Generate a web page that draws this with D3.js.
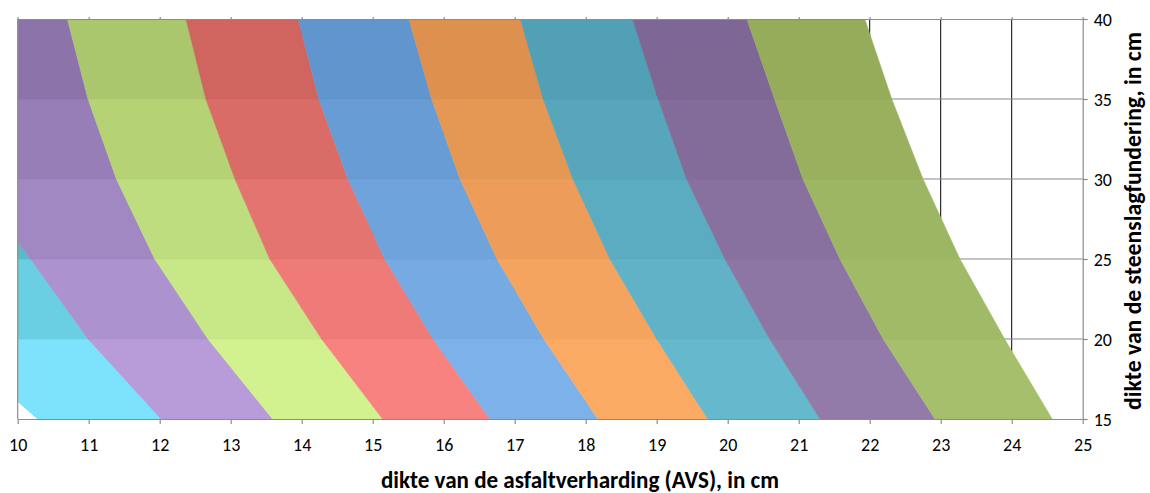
<!DOCTYPE html>
<html>
<head>
<meta charset="utf-8">
<script src="https://cdn.jsdelivr.net/npm/d3@7"></script>
<style>
  body { margin: 0; background: #fff; }
  text { font-family: Carlito, Calibri, Lato, sans-serif; }
  .title { font-family: Carlito, Calibri, "Open Sans", sans-serif; font-weight: bold; }
</style>
</head>
<body>
<script>
// y levels of the surface grid (steenslagfundering, cm)
var yLevels = [15, 20, 25, 30, 35, 40];
var xTickValues = d3.range(10, 26);
var yTickValues = [15, 20, 25, 30, 35, 40];

// x position (AVS, cm) of each contour boundary at every y level, left to right
var boundaryX = [
  [10.28, 9.00, 7.80, 6.60, 5.40, 4.20],
  [12.02, 10.99, 10.18, 9.30, 8.60, 8.00],
  [13.59, 12.68, 11.93, 11.39, 10.99, 10.70],
  [15.14, 14.28, 13.55, 13.06, 12.65, 12.37],
  [16.65, 15.85, 15.17, 14.65, 14.24, 13.95],
  [18.17, 17.41, 16.75, 16.23, 15.83, 15.51],
  [19.72, 19.00, 18.34, 17.82, 17.40, 17.08],
  [21.30, 20.59, 19.96, 19.42, 19.02, 18.66],
  [22.92, 22.19, 21.58, 21.06, 20.66, 20.27],
  [24.57, 23.90, 23.27, 22.75, 22.31, 21.93]
];

// band colours, bottom row (15-20) and top row (35-40)
var bandBottom = ['#7de2fc', '#b79cd9', '#d1f28e', '#f88280', '#7db1ea', '#fbaa64', '#66b8cd', '#937ba9', '#a5bf6c'];
var bandTop    = ['#319694', '#8c74ab', '#abc76d', '#d0655f', '#6195cd', '#de904e', '#52a0b5', '#7e6795', '#95ac5b'];

var xTitle = 'dikte van de asfaltverharding (AVS), in cm';
var yTitle = 'dikte van de steenslagfundering, in cm';

var width = 1150, height = 493;
var svg = d3.select('body').append('svg').attr('width', width).attr('height', height);

var x = d3.scaleLinear().domain([10, 25]).range([17.7, 1082.7]);
var y = d3.scaleLinear().domain([15, 40]).range([419, 19]);

svg.append('clipPath').attr('id', 'plotClip')
  .append('rect')
  .attr('x', x(10)).attr('y', y(40))
  .attr('width', x(25) - x(10)).attr('height', y(15) - y(40));

// gridlines (behind the surface)
var grid = svg.append('g');
grid.selectAll('line.v')
  .data(xTickValues.slice(1, -1))
  .enter().append('line')
  .attr('x1', function (d) { return x(d); }).attr('x2', function (d) { return x(d); })
  .attr('y1', y(40)).attr('y2', y(15))
  .attr('stroke', '#000').attr('stroke-width', 1);
grid.selectAll('line.h')
  .data(yTickValues.slice(1, -1))
  .enter().append('line')
  .attr('x1', x(10)).attr('x2', x(25))
  .attr('y1', function (d) { return y(d); }).attr('y2', function (d) { return y(d); })
  .attr('stroke', '#8a8a8a').attr('stroke-width', 1.2);

// surface bands, one quad per band per row
var quads = [];
for (var k = 0; k < boundaryX.length - 1; k++) {
  for (var j = 0; j < yLevels.length - 1; j++) {
    quads.push({band: k, row: j});
  }
}

function quadColor(d) {
  return d3.interpolateRgb(bandBottom[d.band], bandTop[d.band])(d.row / 4);
}

var surface = svg.append('g').attr('clip-path', 'url(#plotClip)');
surface.selectAll('polygon')
  .data(quads)
  .enter().append('polygon')
  .attr('points', function (d) {
    var L = boundaryX[d.band], R = boundaryX[d.band + 1], j = d.row;
    return [
      [x(L[j]), y(yLevels[j])],
      [x(L[j + 1]), y(yLevels[j + 1])],
      [x(R[j + 1]), y(yLevels[j + 1])],
      [x(R[j]), y(yLevels[j])]
    ].map(function (p) { return p.join(','); }).join(' ');
  })
  .attr('fill', quadColor)
  .attr('stroke', quadColor)
  .attr('stroke-width', 0.6);

// frame
var axisColor = '#8c8c8c';
svg.append('line')
  .attr('x1', x(10)).attr('x2', x(10)).attr('y1', y(40)).attr('y2', y(15))
  .attr('stroke', axisColor).attr('stroke-width', 1.2);

var topAxis = svg.append('g').attr('transform', 'translate(0,' + y(40) + ')')
  .call(d3.axisTop(x).tickValues(xTickValues).tickSize(2).tickSizeOuter(0).tickFormat(''));

var bottomAxis = svg.append('g').attr('transform', 'translate(0,' + y(15) + ')')
  .call(d3.axisBottom(x).tickValues(xTickValues).tickSize(5).tickSizeOuter(0).tickFormat(d3.format('d')));
bottomAxis.selectAll('text')
  .attr('y', 32).attr('dy', null)
  .style('font-size', '18px').attr('fill', '#000');

var rightAxis = svg.append('g').attr('transform', 'translate(' + x(25) + ',0)')
  .call(d3.axisRight(y).tickValues(yTickValues).tickSize(5).tickSizeOuter(0).tickFormat(d3.format('d')));
rightAxis.selectAll('text')
  .attr('x', 11).attr('dy', '0.38em')
  .attr('text-anchor', 'start')
  .style('font-size', '18px').attr('fill', '#000');

[topAxis, bottomAxis, rightAxis].forEach(function (a) {
  a.select('.domain').attr('stroke', axisColor).attr('stroke-width', 1.2);
  a.selectAll('.tick line').attr('stroke', axisColor).attr('stroke-width', 1.2);
});

// axis titles, sized to the width they take in the original
function fitText(sel, target) {
  var w = sel.node().getComputedTextLength();
  sel.style('font-size', (20 * target / w).toFixed(2) + 'px');
}

var xt = svg.append('text').attr('class', 'title')
  .attr('x', 580).attr('y', 488)
  .attr('text-anchor', 'middle')
  .style('font-size', '20px')
  .text(xTitle);
fitText(xt, 398);

var yt = svg.append('text').attr('class', 'title')
  .attr('transform', 'translate(1141,221) rotate(-90)')
  .attr('text-anchor', 'middle')
  .style('font-size', '20px')
  .text(yTitle);
fitText(yt, 378);
</script>
</body>
</html>
